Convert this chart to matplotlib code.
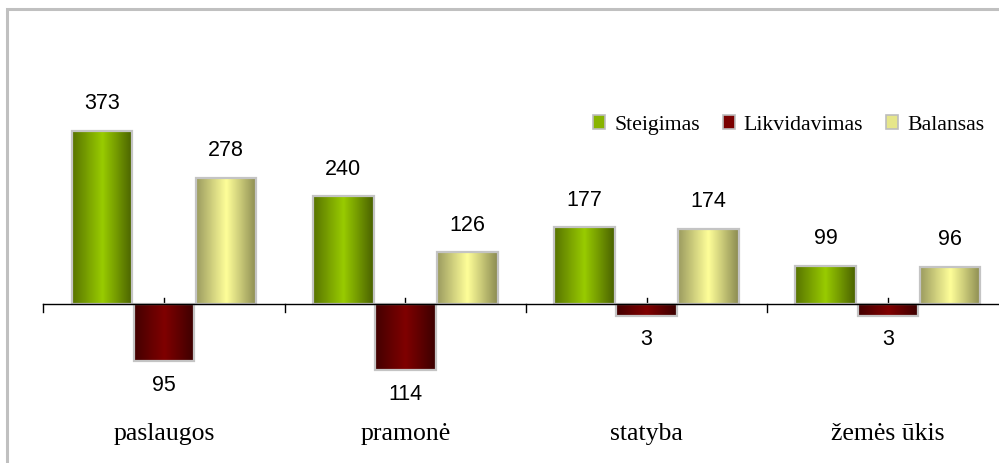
import numpy as np
import matplotlib
matplotlib.use("Agg")
import matplotlib.pyplot as plt
from matplotlib.colors import LinearSegmentedColormap
from matplotlib.patches import Rectangle, Patch

# data
categories = ['paslaugos', 'pramonė', 'statyba', 'žemės ūkis']
steigimas = [373, 240, 177, 99]
likvidavimas = [95, 114, 3, 3]
balansas = [278, 126, 174, 96]
series_names = ['Steigimas', 'Likvidavimas', 'Balansas']

# bar gradients (edge -> centre -> edge)
grads = [['#587400', '#99cc00', '#4a6200'],
         ['#440000', '#800000', '#3c0000'],
         ['#9c9c60', '#ffff99', '#8c8c52']]
solid = ['#88b400', '#7a0000', '#e6e68a']

cross = 21  # value where the category axis crosses
width = 0.252
offs = [-0.257, 0.0, 0.257]

fig = plt.figure(figsize=(9.99, 4.63), dpi=100)
ax = fig.add_axes([0, 0, 1, 1])
ax.set_axis_off()

x = np.arange(len(categories))
vals = [steigimas, [-v for v in likvidavimas], balansas]
shown = [steigimas, likvidavimas, balansas]

for s in range(3):
    cmap = LinearSegmentedColormap.from_list('g%d' % s, grads[s])
    grad = np.linspace(0, 1, 64).reshape(1, -1)
    bars = ax.bar(x + offs[s], np.array(vals[s]) - cross, width, bottom=cross,
                  color='none', edgecolor='#c4c4c4', linewidth=1.6, zorder=3)
    for b, v, lab in zip(bars, vals[s], shown[s]):
        x0, y0 = b.get_x(), b.get_y()
        w, h = b.get_width(), b.get_height()
        im = ax.imshow(grad, cmap=cmap, aspect='auto', zorder=2,
                       extent=[x0, x0 + w, min(y0, y0 + h), max(y0, y0 + h)])
        im.set_clip_path(b)
        if v >= 0:
            ax.annotate(str(lab), (x0 + w / 2, v), xytext=(0, 19.5),
                        textcoords='offset points', ha='center', va='center',
                        fontsize=15.5, family='Liberation Sans')
        else:
            ax.annotate(str(lab), (x0 + w / 2, v), xytext=(0, -17.5),
                        textcoords='offset points', ha='center', va='center',
                        fontsize=15.5, family='Liberation Sans')

# category axis line and ticks
ax.plot([-0.5, 3.6], [cross, cross], color='black', lw=1, zorder=4)
for b in np.arange(-0.5, 3.6, 1.0):
    ax.plot([b, b], [cross, cross - 16], color='black', lw=1, zorder=4)
for c in x:
    ax.plot([c, c], [cross, cross + 11], color='black', lw=1, zorder=1)

for c, name in zip(x, categories):
    ax.text(c, 0.062, name, transform=ax.get_xaxis_transform(), ha='center',
            va='center', fontsize=18.5, family='Liberation Serif')

ax.set_xlim(-0.6797, 3.4604)
ax.set_ylim(-303.4, 640)

# legend
handles = [Patch(facecolor=solid[i], edgecolor='#bdbdbd', linewidth=1.2) for i in range(3)]
ax.legend(handles, series_names, loc='center right', bbox_to_anchor=(984 / 999, 1 - 125 / 463),
          ncol=3, frameon=False, prop={'family': 'Liberation Serif', 'size': 15.7},
          handlelength=0.56, handleheight=0.56, handletextpad=0.4, columnspacing=1.05,
          borderpad=0, borderaxespad=0)

# outer chart border
fig.patches.append(Rectangle((7 / 999, -0.1), 1.2, 1 - 9 / 463 + 0.1, transform=fig.transFigure,
                             fill=False, edgecolor='#c0c0c0', linewidth=2.2))

fig.savefig('out.png', dpi=100)
